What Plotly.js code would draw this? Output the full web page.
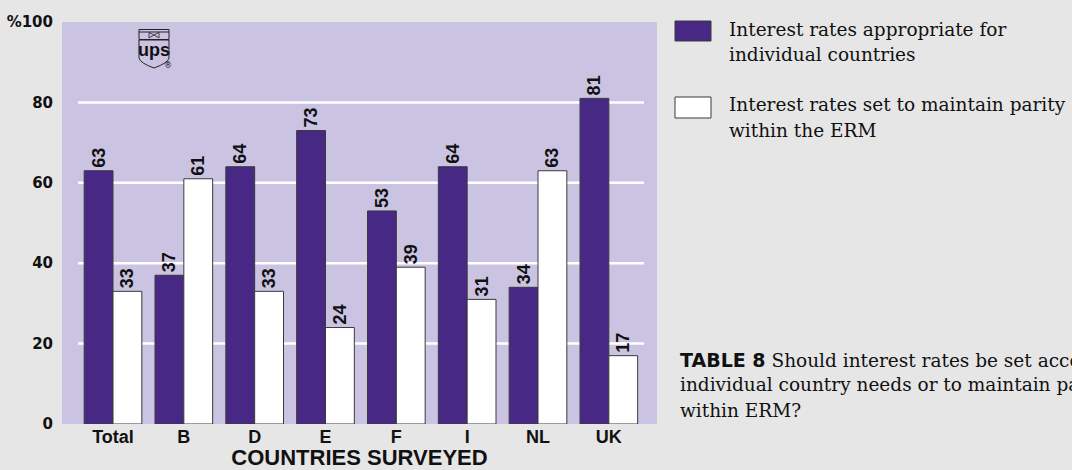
<!DOCTYPE html>
<html>
<head>
<meta charset="utf-8">
<script src="https://cdn.plot.ly/plotly-3.0.1.min.js"></script>
<style>
html,body{margin:0;padding:0;background:#e6e6e6;}
#chart{width:1072px;height:470px;}
</style>
</head>
<body>
<div id="chart"></div>
<script>
// ---- data ----
var categories = ['Total', 'B', 'D', 'E', 'F', 'I', 'NL', 'UK'];
var appropriateValues = [63, 37, 64, 73, 53, 64, 34, 81];
var parityValues = [33, 61, 33, 24, 39, 31, 63, 17];
var seriesNames = ['Interest rates appropriate for<br>individual countries',
                   'Interest rates set to maintain parity<br>within the ERM'];
var yTickVals = [0, 20, 40, 60, 80, 100];
var yTickText = ['0', '20', '40', '60', '80', '%100'];
var gridVals = [20, 40, 60, 80];
var xAxisTitle = 'COUNTRIES SURVEYED';
var captionBold = 'TABLE 8';
var captionText = ' Should interest rates be set according to<br>individual country needs or to maintain parity<br>within ERM?';

// ---- layout helpers ----
var W = 1072, H = 470;
var M = {l: 62, r: 415, t: 22, b: 46};
var PW = W - M.l - M.r, PH = H - M.t - M.b;
function px(x) { return (x - M.l) / PW; }
function py(y) { return (H - M.b - y) / PH; }

var PURPLE = '#472884';
var LAVENDER = '#cbc3e2';
var BG = '#e6e6e6';
var OUTLINE = '#3a3a3a';
var sansBold = 'Liberation Sans, Arial, sans-serif';
var numFont = {family: sansBold, size: 18, color: '#111', weight: 'bold'};
var serifFont = 'DejaVu Serif, Liberation Serif, serif';
var SERIF_SIZE = 18.5;
var LINE_GAP = 25.8;

var traces = [
  {type: 'bar', x: categories, y: appropriateValues, name: seriesNames[0],
   marker: {color: PURPLE, line: {color: OUTLINE, width: 1}},
   text: appropriateValues.map(String), textposition: 'outside', textangle: -90,
   textfont: numFont, cliponaxis: false, hoverinfo: 'x+y'},
  {type: 'bar', x: categories, y: parityValues, name: seriesNames[1],
   marker: {color: '#ffffff', line: {color: OUTLINE, width: 1}},
   text: parityValues.map(String), textposition: 'outside', textangle: -90,
   textfont: numFont, cliponaxis: false, hoverinfo: 'x+y'}
];

var shapes = [];
gridVals.forEach(function (v) {
  shapes.push({type: 'line', xref: 'paper', yref: 'y', x0: px(78), x1: px(644), y0: v, y1: v,
               line: {color: '#ffffff', width: 2.5}, layer: 'below'});
});
// legend swatches
shapes.push({type: 'rect', xref: 'paper', yref: 'paper', x0: px(675), x1: px(711), y0: py(21), y1: py(41),
             fillcolor: PURPLE, line: {color: OUTLINE, width: 1}});
shapes.push({type: 'rect', xref: 'paper', yref: 'paper', x0: px(675), x1: px(711), y0: py(97), y1: py(118),
             fillcolor: '#ffffff', line: {color: OUTLINE, width: 1}});
// UPS logo
function pathPx(cmds) {
  return cmds.map(function (c) {
    if (typeof c === 'string') return c;
    return px(c[0]).toFixed(5) + ',' + py(c[1]).toFixed(5);
  }).join(' ');
}
shapes.push({type: 'rect', xref: 'paper', yref: 'paper', x0: px(139), x1: px(169), y0: py(29.5), y1: py(39.5),
             line: {color: '#222', width: 1}, fillcolor: 'rgba(0,0,0,0)'});
shapes.push({type: 'line', xref: 'paper', yref: 'paper', x0: px(139), x1: px(169), y0: py(32), y1: py(32),
             line: {color: '#222', width: 1}});
shapes.push({type: 'path', xref: 'paper', yref: 'paper',
             path: pathPx(['M', [149, 32.5], 'L', [154, 35], 'L', [149, 38], 'Z', 'M', [159, 32.5], 'L', [154, 35], 'L', [159, 38], 'Z']),
             line: {color: '#222', width: 0.8}, fillcolor: 'rgba(0,0,0,0)'});
shapes.push({type: 'path', xref: 'paper', yref: 'paper',
             path: pathPx(['M', [139, 40], 'L', [139, 58], 'Q', [140, 63], [154, 68], 'Q', [168, 63], [169, 58], 'L', [169, 40], 'Z']),
             line: {color: '#222', width: 1}, fillcolor: 'rgba(0,0,0,0)'});

var annotations = [];
function addLines(lines, xPx, firstBaseline) {
  lines.forEach(function (t, i) {
    var base = firstBaseline + i * LINE_GAP;
    annotations.push({xref: 'paper', yref: 'paper', x: px(xPx), y: py(base - 19.5),
      xanchor: 'left', yanchor: 'top', align: 'left', text: t, showarrow: false,
      font: {family: serifFont, size: SERIF_SIZE, color: '#111'}});
  });
}
addLines(seriesNames[0].split('<br>'), 727, 36);
addLines(seriesNames[1].split('<br>'), 727, 111.5);
var capLines = captionText.split('<br>');
capLines[0] = '<span style="font-family:DejaVu Sans, sans-serif;font-weight:bold;font-size:19px">' + captionBold + '</span>' + capLines[0];
addLines(capLines, 678, 366);

annotations.push({xref: 'paper', yref: 'paper', x: px(154), y: py(50), xanchor: 'center', yanchor: 'middle',
   text: '<b>ups</b>', showarrow: false, font: {family: sansBold, size: 18, color: '#111'}});
annotations.push({xref: 'paper', yref: 'paper', x: px(167.5), y: py(66), xanchor: 'center', yanchor: 'middle',
   text: '®', showarrow: false, font: {family: 'DejaVu Sans, sans-serif', size: 8, color: '#111'}});

var layout = {
  width: W, height: H,
  margin: M,
  paper_bgcolor: BG,
  plot_bgcolor: LAVENDER,
  showlegend: false,
  barmode: 'group',
  bargap: 0.186,
  bargroupgap: 0,
  font: {family: 'DejaVu Sans, sans-serif', color: '#111'},
  xaxis: {
    type: 'category', range: [-0.72, 7.68], showgrid: false, zeroline: false, showline: false,
    ticks: '', tickfont: {family: sansBold, size: 18, color: '#111', weight: 'bold'},
    title: {text: xAxisTitle, font: {family: sansBold, size: 22, color: '#111', weight: 'bold'}, standoff: 0},
    automargin: false,
    fixedrange: true
  },
  yaxis: {
    range: [0, 100], showgrid: false, zeroline: false, showline: false, ticks: '',
    tickvals: yTickVals, ticktext: yTickText, ticklabelstandoff: 8,
    tickfont: {family: 'DejaVu Sans, sans-serif', size: 15, color: '#111', weight: 'bold'},
    automargin: false,
    fixedrange: true
  },
  shapes: shapes,
  annotations: annotations
};

Plotly.newPlot('chart', traces, layout, {displayModeBar: false, staticPlot: true});
</script>
</body>
</html>
